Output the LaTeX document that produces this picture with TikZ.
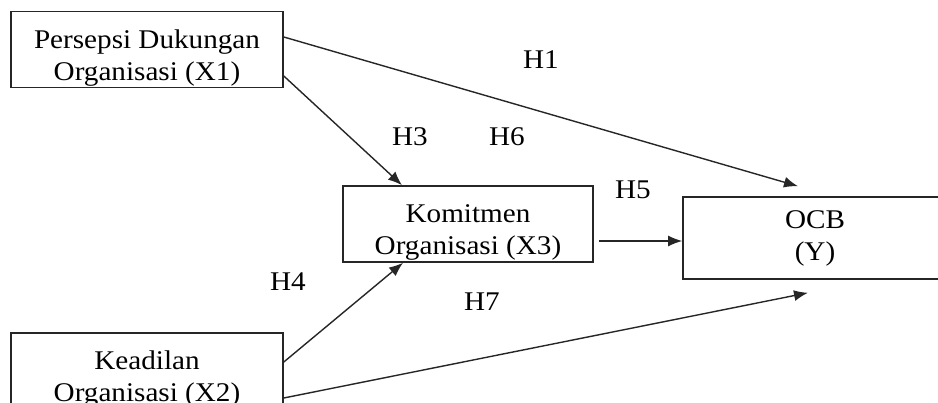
\documentclass[tikz,border=0pt]{standalone}
\usepackage{fontspec}
\setmainfont{Liberation Serif}[FakeStretch=1.08]
\usepackage{tikz}
\usetikzlibrary{arrows.meta,positioning,calc}
\newcommand{\topstrut}{\rule{0pt}{35pt}}

\begin{document}
\begin{tikzpicture}[
    x=1pt, y=-1pt,
    var_box/.style={rectangle, draw=black!85, line width=1.6pt, minimum width=272pt, minimum height=76pt, inner sep=0pt, align=center, font=\fontsize{27}{32}\selectfont},
    out_box/.style={rectangle, draw=black!85, line width=1.6pt, minimum width=264pt, minimum height=82pt, inner sep=0pt, align=center, font=\fontsize{27}{32}\selectfont},
    hyp/.style={inner sep=0pt, font=\fontsize{27}{32}\selectfont},
    path_arrow/.style={-{Latex[length=14pt,width=11pt]}, line width=1.4pt, draw=black!85}
]
    \useasboundingbox (0,0) rectangle (938,403);

    % variables
    \node[var_box] (X1) at (147,49.5) {\topstrut Persepsi Dukungan\\Organisasi (X1)};
    \node[var_box] (X2) at (147,371) {\topstrut Keadilan\\Organisasi (X2)};
    \node[var_box, minimum width=250pt] (X3) at (468,224) {\topstrut Komitmen\\Organisasi (X3)};
    \node[out_box] (Y) at (815,238) {OCB\\(Y)};

    % hypotheses
    \node[hyp] (H1) at (541,60) {H1};
    \node[hyp] (H3) at (410,137) {H3};
    \node[hyp] (H6) at (507,137) {H6};
    \node[hyp] (H5) at (633,190) {H5};
    \node[hyp] (H4) at (288,282) {H4};
    \node[hyp] (H7) at (482,302) {H7};

    % paths
    \coordinate (h5s) at ([xshift=5pt,yshift=-17pt]X3.east);
    \draw[path_arrow] ([yshift=12.5pt]X1.east) -- ([xshift=-17pt,yshift=10pt]Y.north);
    \draw[path_arrow] ([yshift=-26.5pt]X1.east) -- ([xshift=-66pt]X3.north);
    \draw[path_arrow] ([yshift=9pt]X2.east) -- ([xshift=-65pt]X3.south);
    \draw[path_arrow] ([yshift=-27pt]X2.east) -- ([xshift=-7pt,yshift=-13pt]Y.south);
    \draw[path_arrow] (h5s) -- (h5s -| Y.west);
\end{tikzpicture}
\end{document}
